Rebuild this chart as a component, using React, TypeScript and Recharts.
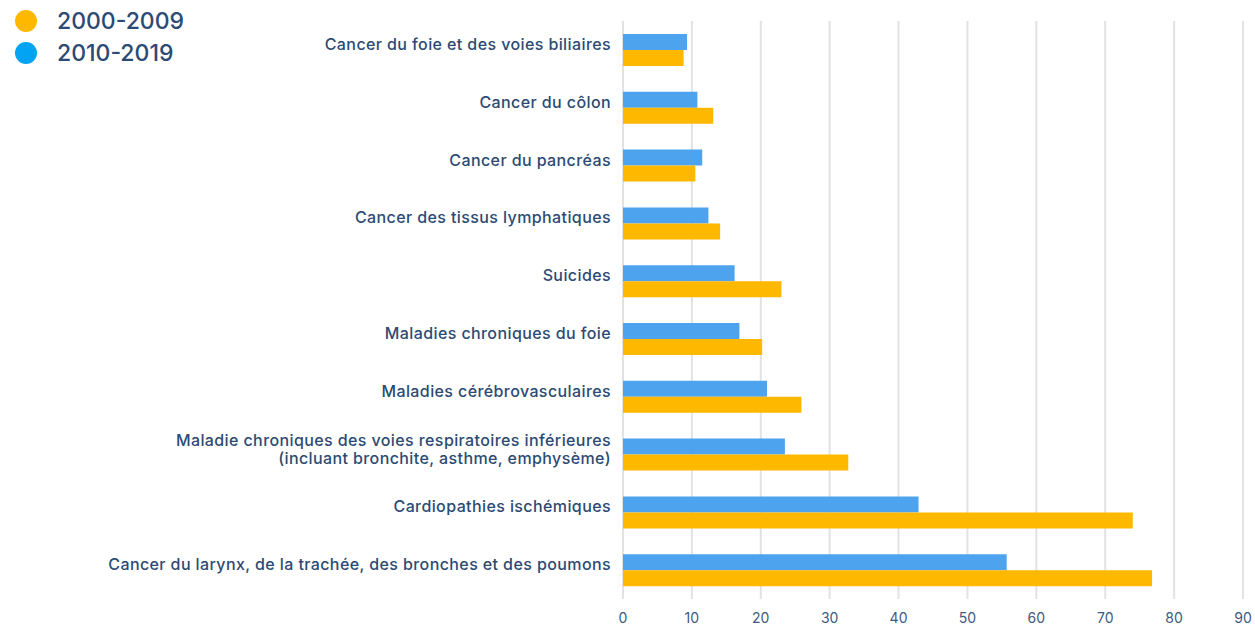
import React from "react";
import { BarChart, Bar, XAxis, YAxis, CartesianGrid } from "recharts";

const categories = [
  "Cancer du foie et des voies biliaires",
  "Cancer du côlon",
  "Cancer du pancréas",
  "Cancer des tissus lymphatiques",
  "Suicides",
  "Maladies chroniques du foie",
  "Maladies cérébrovasculaires",
  "Maladie chroniques des voies respiratoires inférieures\n(incluant bronchite, asthme, emphysème)",
  "Cardiopathies ischémiques",
  "Cancer du larynx, de la trachée, des bronches et des poumons",
];
const values2010 = [9.3, 10.8, 11.5, 12.4, 16.2, 16.9, 20.9, 23.5, 42.9, 55.7];
const values2000 = [8.8, 13.1, 10.5, 14.1, 23.0, 20.2, 25.9, 32.7, 74.0, 76.8];
const xTicks = [0, 10, 20, 30, 40, 50, 60, 70, 80, 90];
const seriesNames = ["2000-2009", "2010-2019"];

const data = categories.map((c, i) => ({
  name: c,
  v2010: values2010[i],
  v2000: values2000[i],
}));

const FONT = "Inter, 'Noto Sans', sans-serif";
const TEXT = "#2c4a73";

const CategoryTick = (props: any) => {
  const { x, y, payload } = props;
  const lines = String(payload.value).split("\n");
  const lh = 18;
  const start = -((lines.length - 1) * lh) / 2;
  return (
    <text
      x={x}
      y={y}
      textAnchor="end"
      fill={TEXT}
      fontSize={16}
      fontWeight={500}
      letterSpacing={0.4}
      fontFamily={FONT}
    >
      {lines.map((l, i) => (
        <tspan key={i} x={x} dy={i === 0 ? start : lh}>
          {l}
        </tspan>
      ))}
    </text>
  );
};

export default function App() {
  return (
    <div style={{ position: "absolute", left: 0, top: 0, width: 1255, height: 632, background: "#fff" }}>
      <BarChart
        width={1255}
        height={632}
        data={data}
        layout="vertical"
        margin={{ top: 21, right: 12, bottom: 3, left: 0 }}
        barSize={16}
        barGap={0}
      >
        <CartesianGrid horizontal={false} stroke="#e2e2e2" strokeWidth={2} />
        <XAxis
          type="number"
          domain={[0, 90]}
          ticks={xTicks}
          axisLine={false}
          tickLine={false}
          height={30}
          tickMargin={8}
          tick={{ fill: "#3d5a80", fontSize: 14, fontFamily: FONT }}
        />
        <YAxis
          type="category"
          dataKey="name"
          width={623}
          axisLine={false}
          tickLine={false}
          tickSize={0}
          tickMargin={12}
          interval={0}
          tick={<CategoryTick />}
        />
        <Bar dataKey="v2010" name={seriesNames[1]} fill="#4da3ee" isAnimationActive={false} />
        <Bar dataKey="v2000" name={seriesNames[0]} fill="#ffb800" isAnimationActive={false} />
      </BarChart>
      <div style={{ position: "absolute", left: 15, top: 5, fontFamily: FONT, color: TEXT }}>
        {[
          { name: seriesNames[0], color: "#ffb800" },
          { name: seriesNames[1], color: "#03a3f3" },
        ].map((s) => (
          <div key={s.name} style={{ display: "flex", alignItems: "center", height: 32 }}>
            <span
              style={{
                width: 22,
                height: 22,
                borderRadius: "50%",
                background: s.color,
                display: "inline-block",
                marginRight: 20,
              }}
            />
            <span style={{ fontSize: 23, fontWeight: 500, lineHeight: "32px" }}>{s.name}</span>
          </div>
        ))}
      </div>
    </div>
  );
}
